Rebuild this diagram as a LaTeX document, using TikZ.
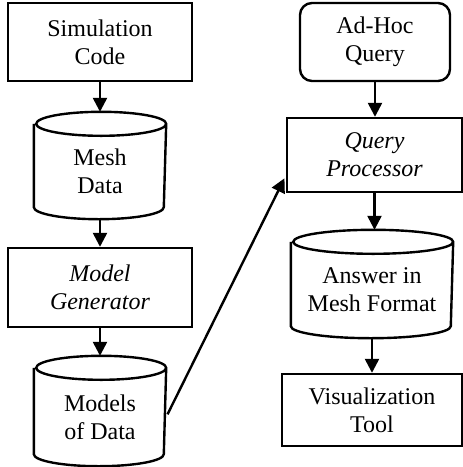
\documentclass[tikz,border=0pt]{standalone}
\usepackage{fontspec}
\setmainfont{Liberation Serif}
\usetikzlibrary{arrows.meta,calc}
\tikzset{
  base/.style={line width=2.4pt, align=center, inner sep=0pt,
    font=\fontsize{24}{28}\selectfont},
  box/.style={base, draw, rectangle},
  cylbody/.style={base, rectangle},
  arr/.style={line width=2.4pt, -{Triangle[length=14pt,width=14pt]}},
}
\newcommand\drawcyl[2]{%
  \draw[line width=2.4pt] (#1.north west) -- ($(#1.south west)+(0,12)$)
    arc[start angle=180,end angle=360,x radius=#2,y radius=12]
    -- (#1.north east)
    arc[start angle=0,end angle=360,x radius=#2,y radius=12];}
\begin{document}
\begin{tikzpicture}[x=1pt,y=1pt]
\useasboundingbox (0,0) rectangle (463,-467);
\node[box, minimum width=184pt, minimum height=78pt] (sim) at (100,-42) {Simulation\\Code};
\node[cylbody, minimum width=130pt, minimum height=93pt] (mesh) at (100,-171.5) {Mesh\\Data};
\node[box, minimum width=184pt, minimum height=79pt] (gen) at (100,-287.5) {\itshape Model\\\itshape Generator};
\node[cylbody, minimum width=130pt, minimum height=96pt] (mod) at (100,-417) {Models\\of Data};
\node[box, rounded corners=12pt, minimum width=150pt, minimum height=78pt] (adhoc) at (375,-42) {Ad-Hoc\\Query};
\node[box, minimum width=175pt, minimum height=74pt] (qp) at (374.5,-155) {\itshape Query\\\itshape Processor};
\node[cylbody, minimum width=160pt, minimum height=94pt] (ans) at (372,-290) {Answer in\\Mesh Format};
\node[box, minimum width=180pt, minimum height=72pt] (vis) at (372,-410) {Visualization\\Tool};
\drawcyl{mesh}{65}
\drawcyl{mod}{65}
\drawcyl{ans}{80}
\coordinate (q1) at ($(qp.south west)!0.23!(qp.north west)$);
\draw[arr, shorten >=12pt] (sim.south) -- (mesh.north);
\draw[arr] (mesh.south) -- (gen.north);
\draw[arr, shorten >=12pt] (gen.south) -- (mod.north);
\draw[arr, shorten <=3pt, shorten >=3pt] (mod.east) -- (q1);
\draw[arr] (adhoc.south) -- (adhoc.south |- qp.north);
\draw[arr, shorten >=12pt] (qp.south) -- (qp.south |- ans.north);
\draw[arr] (ans.south) -- (ans.south |- vis.north);
\end{tikzpicture}
\end{document}
